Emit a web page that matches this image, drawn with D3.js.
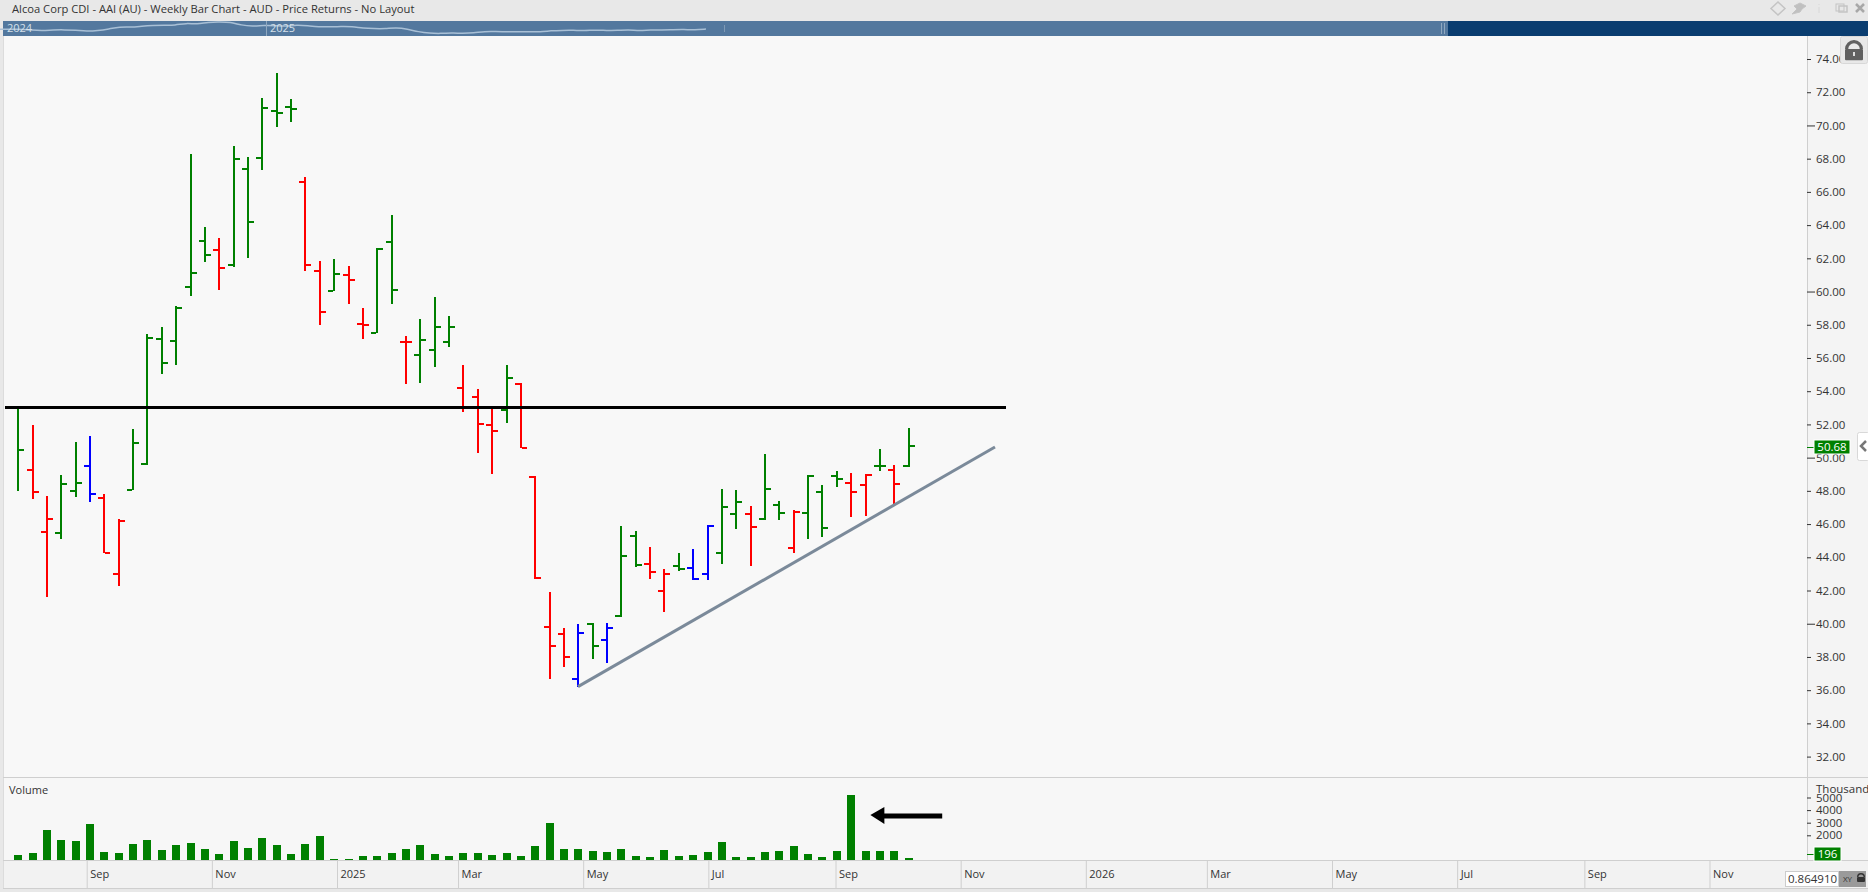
<!DOCTYPE html>
<html lang="en">
<head>
    <meta charset="UTF-8">
    <title>Alcoa Corp CDI - AAI (AU) - Weekly Bar Chart</title>
    <script src="https://d3js.org/d3.v7.min.js"></script>
    <style>
        html, body { margin: 0; padding: 0; background: #e8e8e8; overflow: hidden; }
        svg { display: block; }
        text { font-family: "Open Sans", sans-serif; }
    </style>
</head>
<body>
    <div id="chart"></div>

    <script>
        // Weekly bars
        const dates = ["2024-07-29","2024-08-05","2024-08-12","2024-08-19","2024-08-26","2024-09-02","2024-09-09","2024-09-16","2024-09-23","2024-09-30",
            "2024-10-07","2024-10-14","2024-10-21","2024-10-28","2024-11-04","2024-11-11","2024-11-18","2024-11-25","2024-12-02","2024-12-09",
            "2024-12-16","2024-12-23","2024-12-30","2025-01-06","2025-01-13","2025-01-20","2025-01-27","2025-02-03","2025-02-10","2025-02-17",
            "2025-02-24","2025-03-03","2025-03-10","2025-03-17","2025-03-24","2025-03-31","2025-04-07","2025-04-14","2025-04-21","2025-04-28",
            "2025-05-05","2025-05-12","2025-05-19","2025-05-26","2025-06-02","2025-06-09","2025-06-16","2025-06-23","2025-06-30","2025-07-07",
            "2025-07-14","2025-07-21","2025-07-28","2025-08-04","2025-08-11","2025-08-18","2025-08-25","2025-09-01","2025-09-08","2025-09-15",
            "2025-09-22","2025-09-29","2025-10-06"];
        const opens = [53.00,49.27,45.54,45.48,48.01,49.52,47.59,43.02,48.07,49.64,
            57.16,57.04,60.27,63.06,62.52,61.62,67.38,68.06,70.89,71.13,
            66.61,61.26,60.03,61.01,58.07,57.52,63.00,56.98,56.20,56.50,
            56.98,54.21,53.67,51.97,52.89,54.45,48.82,39.82,39.40,36.69,
            40.00,39.04,40.47,45.30,43.62,41.99,43.50,43.38,43.00,44.28,
            46.63,46.63,46.31,47.15,44.58,46.67,47.93,48.90,48.49,48.35,
            49.50,49.26,49.50];
        const highs = [53.00,51.97,47.69,48.96,50.94,51.30,47.81,46.29,51.71,57.44,
            57.87,59.11,68.28,63.89,63.22,68.76,68.10,71.65,73.16,71.59,
            66.90,61.84,61.96,61.54,59.01,62.60,64.61,57.32,58.35,59.67,
            58.53,55.58,54.13,52.99,55.58,54.48,48.88,41.91,39.75,39.99,
            40.05,40.05,45.89,45.59,44.62,43.30,44.26,44.50,45.95,48.11,
            48.05,47.09,50.22,47.39,46.85,48.96,48.35,49.20,49.08,49.02,
            50.52,49.56,51.79];
        const lows = [48.01,47.53,41.63,45.12,47.65,47.35,44.24,42.29,48.05,49.58,
            55.06,55.60,59.75,61.80,60.11,61.50,62.04,67.34,69.92,70.23,
            61.26,58.00,60.02,59.27,57.16,57.49,59.27,54.45,54.51,55.48,
            56.68,52.77,50.30,49.03,52.11,50.56,42.71,36.68,37.40,36.21,
            37.88,37.64,40.41,43.42,42.70,40.71,43.18,42.64,42.64,43.60,
            45.71,43.48,46.25,46.25,44.26,45.10,45.22,48.23,46.43,46.49,
            49.20,47.21,49.46];
        const closes = [50.48,47.95,46.33,48.43,48.49,47.83,44.26,46.21,50.90,57.22,
            55.70,59.03,61.14,62.22,61.44,68.00,64.21,71.07,70.75,71.01,
            61.62,58.79,61.07,60.71,58.00,62.58,60.11,56.98,57.10,57.88,
            57.88,53.05,52.05,51.62,54.81,50.58,42.76,38.68,38.02,39.46,
            38.68,39.76,44.10,43.54,43.14,43.00,43.30,42.70,45.90,47.05,
            47.35,45.83,48.13,46.67,46.73,48.90,45.77,48.72,47.93,48.96,
            49.50,48.41,50.68];
        const barColors = ["g","r","r","g","g","b","r","r","g","g",
            "g","g","g","g","r","g","g","g","g","g",
            "r","r","g","r","r","g","g","r","g","g",
            "g","r","r","r","g","r","r","r","r","b",
            "g","b","g","g","r","r","g","b","b","g",
            "g","r","g","g","r","g","g","g","r","r",
            "g","r","g"];
        const volumes = [437,595,2421,1627,1548,2897,675,595,1310,1627,
            833,1230,1389,913,516,1548,992,1786,1230,516,
            1310,1944,119,119,357,357,595,913,1230,516,
            357,595,595,437,595,357,1151,2976,913,913,
            754,675,913,357,278,833,357,437,675,1468,
            278,278,675,754,1151,516,278,754,5198,754,
            754,754,198];

        // Axis labels
        const priceTicks = [74,72,70,68,66,64,62,60,58,56,54,52,50,48,46,44,42,40,38,36,34,32];
        const volumeTicks = [5000,4000,3000,2000];
        const monthDates = ["2024-09-01","2024-11-01","2025-01-01","2025-03-01","2025-05-01","2025-07-01","2025-09-01","2025-11-01",
            "2026-01-01","2026-03-01","2026-05-01","2026-07-01","2026-09-01","2026-11-01"];
        const monthLabels = ["Sep","Nov","2025","Mar","May","Jul","Sep","Nov","2026","Mar","May","Jul","Sep","Nov"];

        // Drawn annotations
        const resistancePrice = 53.03;
        const resistanceDates = ["2024-07-23","2025-11-23"];
        const trendDates = ["2025-04-28","2025-11-17"];
        const trendPrices = [36.21,50.64];
        const arrowDates = ["2025-09-18","2025-10-23"];
        const arrowVolume = 3610;

        const navStartDate = "2024-07-10";
        const navStartPrice = 50.5;
        const lastPrice = 50.68;
        const lastVolume = 196;

        const width = 1868, height = 892;
        const parseDate = d3.utcParse("%Y-%m-%d");
        const colorOf = { g: "#008000", r: "#ff0000", b: "#0000ff" };

        const x = d3.scaleUtc()
            .domain([parseDate("2024-09-01"), parseDate("2026-11-01")])
            .range([86.7, 1709.5]);
        const y = d3.scaleLinear().domain([74, 32]).range([59, 756.6]);
        const yVol = d3.scaleLinear().domain([0, 5000]).range([860.5, 797.5]);
        // the bars sit a little right of their Monday
        const barX = d => Math.round(x(parseDate(d)) + 1.3);

        const svg = d3.select("#chart").append("svg")
            .attr("width", width)
            .attr("height", height);

        // Panels
        svg.append("rect").attr("x", 3).attr("y", 36).attr("width", 1865).attr("height", 852).attr("fill", "#f8f8f8");
        svg.append("rect").attr("x", 3).attr("y", 778).attr("width", 1865).attr("height", 82).attr("fill", "#f7f7f7");
        svg.append("rect").attr("x", 1808).attr("y", 36).attr("width", 60).attr("height", 824).attr("fill", "#f4f4f4");
        svg.append("rect").attr("x", 3).attr("y", 860).attr("width", 1865).attr("height", 28).attr("fill", "#f2f2f2");
        svg.append("rect").attr("x", 3).attr("y", 36).attr("width", 1).attr("height", 852).attr("fill", "#dcdcdc");
        svg.append("rect").attr("x", 3).attr("y", 777).attr("width", 1865).attr("height", 1).attr("fill", "#cfcfcf");
        svg.append("rect").attr("x", 3).attr("y", 860).attr("width", 1865).attr("height", 1).attr("fill", "#cfcfcf");
        svg.append("rect").attr("x", 3).attr("y", 888).attr("width", 1865).attr("height", 1).attr("fill", "#cfcfcf");
        svg.append("rect").attr("x", 1807).attr("y", 36).attr("width", 1).attr("height", 824).attr("fill", "#cfcfcf");

        // Title
        svg.append("text").attr("x", 12).attr("y", 13)
            .attr("font-size", 11.2).attr("fill", "#333")
            .text("Alcoa Corp CDI - AAI (AU) - Weekly Bar Chart - AUD - Price Returns - No Layout");

        // Navigator strip
        const navX = d3.scaleUtc()
            .domain([parseDate("2025-01-01"), parseDate("2025-10-13")])
            .range([266.7, 717]);
        const navY = d3.scaleLinear().domain([38, 71]).range([33.5, 22]);
        svg.append("rect").attr("x", 3).attr("y", 21).attr("width", 1445).attr("height", 15).attr("fill", "#53789e");
        svg.append("rect").attr("x", 1448).attr("y", 21).attr("width", 420).attr("height", 15).attr("fill", "#0a3d70");
        const navDates = [navStartDate].concat(dates);
        const navCloses = [navStartPrice].concat(closes);
        svg.append("path")
            .datum(d3.range(navDates.length))
            .attr("fill", "none").attr("stroke", "#a9c0d6").attr("stroke-width", 1.5)
            .attr("d", d3.line()
                .x(i => navX(parseDate(navDates[i])))
                .y(i => navY(navCloses[i]))
                .curve(d3.curveBasis));
        svg.append("rect").attr("x", 266).attr("y", 21).attr("width", 1).attr("height", 15).attr("fill", "#8fa8c0");
        svg.append("text").attr("x", 7).attr("y", 32).attr("font-size", 11).attr("fill", "#d5e0ea").text("2024");
        svg.append("text").attr("x", 270).attr("y", 32).attr("font-size", 11).attr("fill", "#d5e0ea").text("2025");
        svg.append("rect").attr("x", 724).attr("y", 25).attr("width", 1).attr("height", 7).attr("fill", "#7f9ab5");
        svg.append("rect").attr("x", 1441).attr("y", 23).attr("width", 1).attr("height", 11).attr("fill", "#8fa8c0");
        svg.append("rect").attr("x", 1444).attr("y", 23).attr("width", 1).attr("height", 11).attr("fill", "#8fa8c0");

        // Price axis
        const priceAxis = svg.append("g")
            .attr("transform", "translate(1807,0)")
            .call(d3.axisRight(y).tickValues(priceTicks).tickSize(4).tickPadding(4).tickFormat(d3.format(".2f")));
        priceAxis.select(".domain").remove();
        priceAxis.selectAll(".tick line").attr("stroke", "#333")
            .attr("x2", d => d % 10 === 0 ? 8 : 4);
        priceAxis.selectAll(".tick text").attr("x", 9).attr("font-size", 11.5)
            .attr("font-family", "'Open Sans', sans-serif").attr("fill", "#333");

        // Volume axis
        const volumeAxis = svg.append("g")
            .attr("transform", "translate(1807,0)")
            .call(d3.axisRight(yVol).tickValues(volumeTicks).tickSize(4).tickFormat(d3.format("d")));
        volumeAxis.select(".domain").remove();
        volumeAxis.selectAll(".tick line").attr("stroke", "#333");
        volumeAxis.selectAll(".tick text").attr("x", 9).attr("font-size", 11.5)
            .attr("font-family", "'Open Sans', sans-serif").attr("fill", "#333");
        svg.append("text").attr("x", 1816).attr("y", 793).attr("font-size", 11.5).attr("fill", "#333").text("Thousand");
        svg.append("text").attr("x", 9).attr("y", 794).attr("font-size", 11).attr("fill", "#333").text("Volume");

        // Date axis
        const dateAxis = svg.append("g")
            .attr("transform", "translate(0,860)")
            .call(d3.axisBottom(x)
                .tickValues(monthDates.map(parseDate))
                .tickSize(28)
                .tickFormat((d, i) => monthLabels[i]));
        dateAxis.select(".domain").remove();
        dateAxis.selectAll(".tick line").attr("stroke", "#cfcfcf");
        dateAxis.selectAll(".tick text").attr("x", 3).attr("y", 14).attr("dy", "0.32em")
            .attr("text-anchor", "start").attr("font-size", 11)
            .attr("font-family", "'Open Sans', sans-serif").attr("fill", "#333");

        // Price bars: stem, open tick to the left, close tick to the right
        const bars = svg.append("g").attr("shape-rendering", "crispEdges")
            .selectAll("g")
            .data(d3.range(dates.length))
            .enter()
            .append("g")
            .attr("fill", i => colorOf[barColors[i]]);
        bars.append("rect")
            .attr("x", i => barX(dates[i]) - 1)
            .attr("y", i => Math.round(y(highs[i])))
            .attr("width", 2)
            .attr("height", i => Math.round(y(lows[i])) - Math.round(y(highs[i])));
        bars.append("rect")
            .attr("x", i => barX(dates[i]) - 6)
            .attr("y", i => Math.round(y(opens[i])) - 1)
            .attr("width", 5)
            .attr("height", 2);
        bars.append("rect")
            .attr("x", i => barX(dates[i]) + 1)
            .attr("y", i => Math.round(y(closes[i])) - 1)
            .attr("width", 5)
            .attr("height", 2);

        // Volume bars
        svg.append("g").attr("shape-rendering", "crispEdges").attr("fill", "#008000")
            .selectAll("rect")
            .data(d3.range(dates.length))
            .enter()
            .append("rect")
            .attr("x", i => barX(dates[i]) - 4)
            .attr("y", i => Math.round(yVol(volumes[i])))
            .attr("width", 8)
            .attr("height", i => 860 - Math.round(yVol(volumes[i])));

        // Horizontal line and trend line
        svg.append("line")
            .attr("x1", x(parseDate(resistanceDates[0]))).attr("x2", x(parseDate(resistanceDates[1])))
            .attr("y1", y(resistancePrice)).attr("y2", y(resistancePrice))
            .attr("stroke", "#000").attr("stroke-width", 3).attr("shape-rendering", "crispEdges");
        svg.append("path")
            .datum(d3.range(trendDates.length))
            .attr("fill", "none").attr("stroke", "#7b8a9a").attr("stroke-width", 3)
            .attr("d", d3.line()
                .x(i => barX(trendDates[i]))
                .y(i => y(trendPrices[i])));

        // Arrow pointing at the volume spike
        const tipX = x(parseDate(arrowDates[0])), tailX = x(parseDate(arrowDates[1])), arrowY = yVol(arrowVolume);
        svg.append("line")
            .attr("x1", tipX + 12).attr("x2", tailX).attr("y1", arrowY + 1).attr("y2", arrowY + 1)
            .attr("stroke", "#000").attr("stroke-width", 5);
        svg.append("path")
            .attr("d", d3.line()([[tipX, arrowY], [tipX + 14, arrowY - 8], [tipX + 14, arrowY + 9]]))
            .attr("fill", "#000");

        // Last value tags
        function valueTag(yPos, tagWidth, label) {
            svg.append("rect").attr("x", 1807).attr("y", Math.round(yPos)).attr("width", 8).attr("height", 1).attr("fill", "#008000");
            svg.append("rect").attr("x", 1814).attr("y", Math.round(yPos) - 7).attr("width", tagWidth).attr("height", 14)
                .attr("fill", "#008000").attr("stroke", "#fff").attr("stroke-width", 1);
            svg.append("text").attr("x", 1814 + tagWidth / 2).attr("y", Math.round(yPos) + 4)
                .attr("text-anchor", "middle").attr("font-size", 11.5).attr("fill", "#fff").text(label);
        }
        valueTag(y(lastPrice) + 0.5, 36, d3.format(".2f")(lastPrice));
        valueTag(853.5, 27, String(lastVolume));

        // Window buttons, top right
        const icons = svg.append("g").attr("fill", "none").attr("stroke", "#c4c4c4");
        icons.append("path").attr("d", "M1778 2 L1785 8.5 L1778 15 L1771 8.5 Z").attr("stroke-width", 1.5);
        icons.append("path").attr("d", "M1792 14 L1797 9 L1794 6 L1800 3 L1806 6 L1802 9 L1800 12 Z").attr("fill", "#c0c0c0").attr("stroke-width", 1);
        icons.append("path").attr("d", "M1819 4 L1819 5 M1819 7 L1819 13").attr("stroke", "#e0e0e0").attr("stroke-width", 2);
        icons.append("rect").attr("x", 1836).attr("y", 4).attr("width", 8).attr("height", 7).attr("stroke-width", 1);
        icons.append("rect").attr("x", 1839).attr("y", 6).attr("width", 8).attr("height", 6).attr("stroke-width", 1.5);
        icons.append("path").attr("d", "M1856 4 L1864 12 M1864 4 L1856 12").attr("stroke", "#a8a8a8").attr("stroke-width", 2.5);

        // Lock button
        function lockIcon(cx, top, size, color) {
            svg.append("path")
                .attr("d", d3.arc()({ innerRadius: size * 0.32, outerRadius: size * 0.5, startAngle: -Math.PI / 2, endAngle: Math.PI / 2 }))
                .attr("transform", "translate(" + cx + "," + (top + size * 0.5) + ")")
                .attr("fill", color);
            svg.append("rect").attr("x", cx - size * 0.5).attr("y", top + size * 0.5)
                .attr("width", size).attr("height", size * 0.62).attr("rx", 1).attr("fill", color);
        }
        svg.append("rect").attr("x", 1840.5).attr("y", 36.5).attr("width", 27).attr("height", 27).attr("rx", 2)
            .attr("fill", "#e8e8e8").attr("stroke", "#d8d8d8");
        lockIcon(1854, 40, 18, "#606060");
        svg.append("rect").attr("x", 1853).attr("y", 52).attr("width", 2).attr("height", 4).attr("fill", "#ddd");

        // Collapse tab
        svg.append("rect").attr("x", 1857.5).attr("y", 432.5).attr("width", 12).attr("height", 28).attr("rx", 2)
            .attr("fill", "#fff").attr("stroke", "#d8d8d8");
        svg.append("path").attr("d", "M1866 441 L1861 446 L1866 451").attr("fill", "none").attr("stroke", "#777").attr("stroke-width", 2.5);

        // Crosshair box, bottom right
        svg.append("rect").attr("x", 1785.5).attr("y", 871.5).attr("width", 53).attr("height", 15).attr("fill", "#fff").attr("stroke", "#ccc");
        svg.append("text").attr("x", 1788).attr("y", 883).attr("font-size", 11.5).attr("fill", "#333").text("0.864910");
        svg.append("rect").attr("x", 1839).attr("y", 871).attr("width", 27).attr("height", 16).attr("fill", "#9a9a9a");
        svg.append("text").attr("x", 1843).attr("y", 882).attr("font-size", 8).attr("fill", "#333").text("XY");
        lockIcon(1861, 873, 8, "#333");
    </script>
</body>
</html>
